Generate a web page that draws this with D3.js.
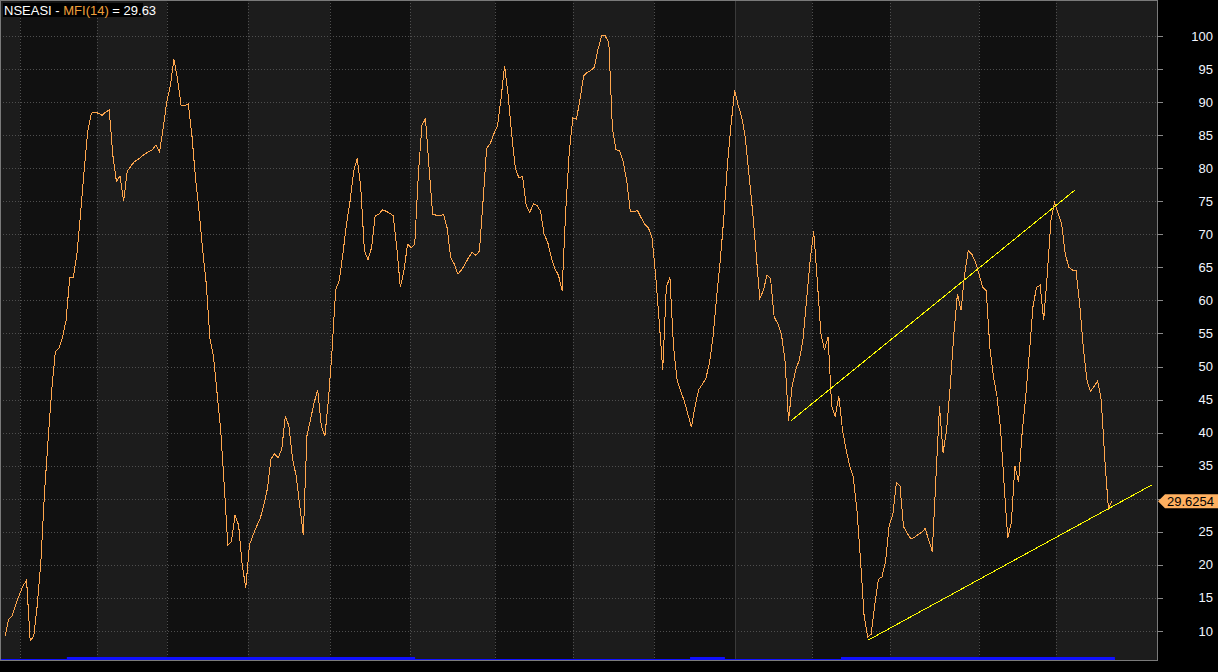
<!DOCTYPE html>
<html lang="en">
<head>
  <meta charset="UTF-8">
  <title>NSEASI - MFI(14)</title>
  <script src="https://cdn.jsdelivr.net/npm/d3@7"></script>
  <style>
    html, body { margin: 0; padding: 0; background: #000; }
    svg { display: block; font-family: "Liberation Sans", Arial, sans-serif; }
  </style>
</head>
<body>
<div id="chart"></div>
<script>
  // MFI(14) readings, one per trading day
  const mfi = [
    9.2, 11.7, 12.3, 14, 15.5, 16.8, 17.7, 8.5, 9.2, 14,
    20.7, 31, 39, 46.5, 52.2, 52.8, 54.4, 57, 63.5, 63.5,
    67, 73, 79.5, 85.5, 88.3, 88.5, 88.3, 88, 88.5, 88.8,
    82, 78, 78.8, 75, 79.5, 80.3, 81, 81.3, 81.8, 82.2,
    82.5, 82.8, 83.5, 82.5, 86, 90, 92.5, 96.5, 93.5, 89.5,
    89.5, 89.7, 85, 78.5, 73.5, 67.6, 62.5, 54.3, 51.5, 46,
    40.5, 32, 23, 23.5, 27.5, 26, 20, 16.5, 23, 24.5,
    25.8, 27, 29, 31.5, 36, 36.8, 36.2, 37.5, 42.5, 41,
    36, 33.5, 29, 24.5, 39.5, 42, 44.5, 46.5, 41, 39.5,
    45, 52.5, 61.6, 63, 67, 71.5, 75, 79.5, 81.5, 77,
    67.5, 66.2, 68, 72.8, 73, 73.7, 73.5, 73.2, 72.8, 68,
    62, 64.5, 68.5, 68, 68.5, 79, 86.5, 87.5, 80, 73,
    72.9, 72.8, 73, 71, 66.5, 65.5, 64, 64.6, 65.5, 66.5,
    67.3, 66.8, 67.5, 75, 83, 83.7, 85.2, 86.3, 90.5, 95.5,
    91, 85, 80, 78.5, 78.8, 74.4, 73.3, 74.6, 74.4, 73.5,
    70, 68.8, 66.5, 64.8, 63.8, 61.5, 73.5, 82.5, 87.6, 87.4,
    90.5, 94, 94.5, 94.8, 95.3, 98, 100, 100, 99, 86,
    82.8, 82.6, 81, 78, 73.4, 73.4, 73.6, 72.5, 71.5, 71,
    69.5, 64, 57, 49.5, 62, 63.5, 53, 48, 46.3, 44.8,
    42.8, 40.8, 44, 46.5, 47.3, 48.2, 50.5, 54.5, 60.5, 66,
    72.5, 80.5, 86.5, 91.8, 89.5, 87.7, 84.5, 79, 73.5, 67,
    60.3, 61.5, 63.8, 63.3, 57.5, 56.5, 55, 51, 41.8, 47,
    49.5, 51, 54, 60, 66, 70.5, 63, 55, 52.5, 54.5,
    44, 42.5, 45.5, 40.5, 37.5, 35, 33.3, 28.5, 21, 12.5,
    9.1, 9.5, 14, 17.8, 18.2, 20.5, 26, 27.5, 32.4, 32,
    25.8, 24.8, 24, 24.1, 24.6, 24.9, 25.5, 23.8, 22, 33,
    44, 37, 40.5, 47, 55, 61, 58.5, 64, 67.5, 67,
    65.8, 64, 62, 61.5, 53, 48.5, 45.5, 40.5, 32, 24,
    26.5, 35, 32.5, 40, 45.5, 52, 59, 62, 62.3, 57,
    64, 72, 74.8, 73.2, 71.5, 67, 65, 64.6, 64.5, 59.5,
    53, 48, 46.2, 47, 47.8, 45, 36, 28.5, 29.63
  ];

  // bar positions where each month begins (vertical grid lines)
  const monthStarts = [4.2, 25.6, 45.1, 67.6, 90.4, 112.7, 136.3, 158.0, 180.6, 203.1, 224.5, 246.2, 271.0, 292.4];
  const yearStart = 203.1;

  const yTicks = d3.range(10, 101, 5);

  // hand drawn trend lines: [bar, value] end points
  const upperTrend = [[218.7, 41.8], [297.7, 76.7]];
  const lowerTrend = [[240.1, 8.6], [319.1, 32.1]];

  // blue signal strip along the bottom: [fromBar, toBar]
  const signalRuns = [[17.2, 114.1], [190.6, 200.3], [232.6, 308.8]];
  const signalEnd = 308.8;

  const lastValue = 29.6254;

  const width = 1218;
  const height = 672;
  const plot = { left: 0, right: 1157, top: 0, bottom: 660 };

  const svg = d3.select("#chart")
    .append("svg")
    .attr("width", width)
    .attr("height", height);

  svg.append("rect")
    .attr("width", width)
    .attr("height", height)
    .attr("fill", "#000");

  // scales
  const x = d3.scaleLinear()
    .domain([0, mfi.length - 1])
    .range([5, 1112]);

  const y = d3.scaleLinear()
    .domain([5.612, 105.445])
    .range([plot.bottom, plot.top]);

  // alternating month bands
  const edges = [plot.left, ...monthStarts.map(d => x(d)), plot.right];
  svg.append("g")
    .selectAll("rect")
    .data(d3.pairs(edges))
    .join("rect")
    .attr("x", d => Math.round(d[0]))
    .attr("y", plot.top)
    .attr("width", d => Math.round(d[1]) - Math.round(d[0]))
    .attr("height", plot.bottom - plot.top)
    .attr("fill", (d, i) => i % 2 === 0 ? "#1c1c1c" : "#111111");

  // grid
  const grid = svg.append("g")
    .attr("shape-rendering", "crispEdges");

  grid.selectAll(".hgrid")
    .data(yTicks)
    .join("line")
    .attr("x1", plot.left)
    .attr("x2", plot.right)
    .attr("y1", d => Math.round(y(d)) + 0.5)
    .attr("y2", d => Math.round(y(d)) + 0.5)
    .attr("stroke", "#4f4f4f")
    .attr("stroke-dasharray", "1,2");

  grid.selectAll(".vgrid")
    .data(monthStarts)
    .join("line")
    .attr("x1", d => Math.round(x(d)) + 0.5)
    .attr("x2", d => Math.round(x(d)) + 0.5)
    .attr("y1", plot.top)
    .attr("y2", plot.bottom)
    .attr("stroke", d => d === yearStart ? "#3a3a3a" : "#4f4f4f")
    .attr("stroke-dasharray", d => d === yearStart ? null : "1,2");

  // signal strip
  svg.append("line")
    .attr("x1", plot.left)
    .attr("x2", x(signalEnd))
    .attr("y1", 659.5)
    .attr("y2", 659.5)
    .attr("stroke", "#1010ff")
    .attr("shape-rendering", "crispEdges");

  svg.append("g")
    .selectAll("rect")
    .data(signalRuns)
    .join("rect")
    .attr("x", d => x(d[0]))
    .attr("width", d => x(d[1]) - x(d[0]))
    .attr("y", 657)
    .attr("height", 3)
    .attr("fill", "#1010ff");

  // frame
  svg.append("path")
    .attr("d", `M${plot.left + 0.5},${plot.bottom}V0.5H${plot.right + 0.5}V${plot.bottom + 0.5}H${plot.left}`)
    .attr("fill", "none")
    .attr("stroke", "#7a7a7a")
    .attr("shape-rendering", "crispEdges");

  // MFI line, drawn aliased like the original terminal chart
  const line = d3.line()
    .x((d, i) => x(i))
    .y(d => y(d));

  svg.append("path")
    .datum(mfi)
    .attr("fill", "none")
    .attr("stroke", "#ffa64d")
    .attr("stroke-width", 1)
    .attr("shape-rendering", "crispEdges")
    .attr("d", line);

  // trend lines
  const trend = d3.line()
    .x(d => x(d[0]))
    .y(d => y(d[1]));

  svg.selectAll(".trend")
    .data([upperTrend, lowerTrend])
    .join("path")
    .attr("fill", "none")
    .attr("stroke", "#ffff00")
    .attr("stroke-width", 1)
    .attr("shape-rendering", "crispEdges")
    .attr("d", trend);

  // right axis
  const axis = svg.append("g")
    .attr("shape-rendering", "crispEdges");

  axis.selectAll("line")
    .data(yTicks)
    .join("line")
    .attr("x1", plot.right)
    .attr("x2", plot.right + 6)
    .attr("y1", d => Math.round(y(d)) + 0.5)
    .attr("y2", d => Math.round(y(d)) + 0.5)
    .attr("stroke", "#8a8a8a");

  // the value tag hides the tick label that sits under it
  const ty = y(lastValue);
  svg.append("g")
    .selectAll("text")
    .data(yTicks.filter(d => Math.abs(y(d) - ty) > 10))
    .join("text")
    .attr("x", 1213)
    .attr("y", d => y(d))
    .attr("dy", "0.35em")
    .attr("text-anchor", "end")
    .style("font-size", "13px")
    .style("fill", "#f2f6ff")
    .text(d => d);

  // last value tag
  svg.append("path")
    .attr("d", `M${plot.right + 1},${ty}L${plot.right + 8},${ty - 7}H${width}V${ty + 7}H${plot.right + 8}Z`)
    .attr("fill", "#ffb060");

  svg.append("text")
    .attr("x", 1214)
    .attr("y", ty)
    .attr("dy", "0.36em")
    .attr("text-anchor", "end")
    .style("font-size", "13px")
    .style("fill", "#000")
    .text(lastValue);

  // title
  svg.append("rect")
    .attr("x", 3)
    .attr("y", 3)
    .attr("width", 140)
    .attr("height", 14)
    .attr("fill", "#000");

  const title = svg.append("text")
    .attr("x", 4)
    .attr("y", 14.5)
    .style("font-size", "13px")
    .style("fill", "#fff");
  title.append("tspan").text("NSEASI - ");
  title.append("tspan").style("fill", "#f0a03c").text("MFI(14)");
  title.append("tspan").text(" = " + d3.format(".2f")(lastValue));
</script>
</body>
</html>
